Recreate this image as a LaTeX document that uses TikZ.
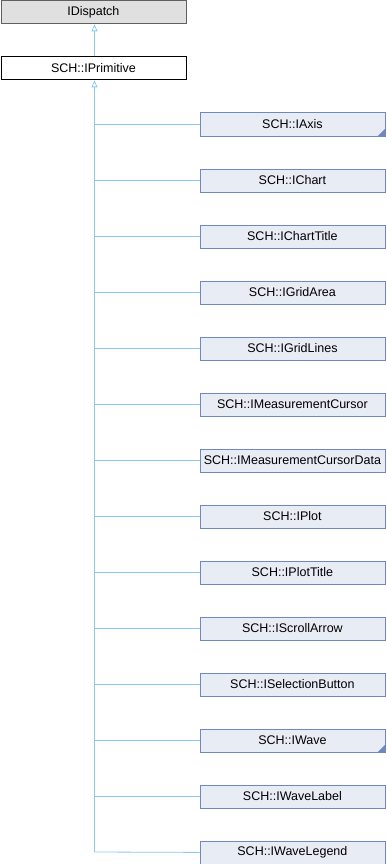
\documentclass[tikz,border=0pt]{standalone}
\usepackage{fontspec}
\setmainfont{Liberation Sans}
\usetikzlibrary{arrows.meta}
\definecolor{childfill}{HTML}{E8ECF4}
\definecolor{childdraw}{HTML}{7088C0}
\definecolor{edgecol}{HTML}{8CC8EC}
\definecolor{grayfill}{HTML}{E0E0E0}
\definecolor{graydraw}{HTML}{606060}
\begin{document}
\begin{tikzpicture}[x=1pt,y=-1pt,
  base/.style={draw, line width=0.8pt, minimum width=185pt, minimum height=23pt, inner sep=0pt, font=\fontsize{12.5}{14}\selectfont, anchor=north west},
  extbox/.style={base, fill=grayfill, draw=graydraw},
  curbox/.style={base, fill=white, draw=black},
  childbox/.style={base, fill=childfill, draw=childdraw},
  edge/.style={draw=edgecol, line width=0.8pt},
  inh/.style={edge, -{Triangle[open, length=7pt, width=6pt]}}
]
\useasboundingbox (0,0) rectangle (386,864);
\node[extbox] (disp) at (0.5,0.5) {IDispatch};
\node[curbox] (prim) at (0.5,56.5) {SCH::IPrimitive};
\draw[inh] (prim.north -| 94.5,0) -- (disp.south -| 94.5,0);
\foreach \n/\t [count=\i from 0] in {
  axis/SCH::IAxis, chart/SCH::IChart, charttitle/SCH::IChartTitle,
  gridarea/SCH::IGridArea, gridlines/SCH::IGridLines,
  mcursor/SCH::IMeasurementCursor, mcursordata/SCH::IMeasurementCursorData,
  plot/SCH::IPlot, plottitle/SCH::IPlotTitle, scroll/SCH::IScrollArrow,
  selbtn/SCH::ISelectionButton, wave/SCH::IWave, wavelabel/SCH::IWaveLabel,
  wavelegend/SCH::IWaveLegend} {
  \node[childbox] (\n) at (199.5,112.5+56*\i) {\t};
}
\foreach \n in {axis, wave} {
  \fill[childdraw] (\n.south east) ++(-0.4,-0.4) -- ++(0,-7) -- ++(-7,7) -- cycle;
}
\coordinate (trunkend) at (94.5,852);
\draw[edge] (trunkend) -- (wavelegend.west);
\draw[inh] (trunkend) -- (prim.south -| 94.5,0);
\foreach \n in {axis, chart, charttitle, gridarea, gridlines, mcursor, mcursordata, plot, plottitle, scroll, selbtn, wave, wavelabel} {
  \draw[edge] (\n.west) -- (\n.west -| trunkend);
}
\end{tikzpicture}
\end{document}
